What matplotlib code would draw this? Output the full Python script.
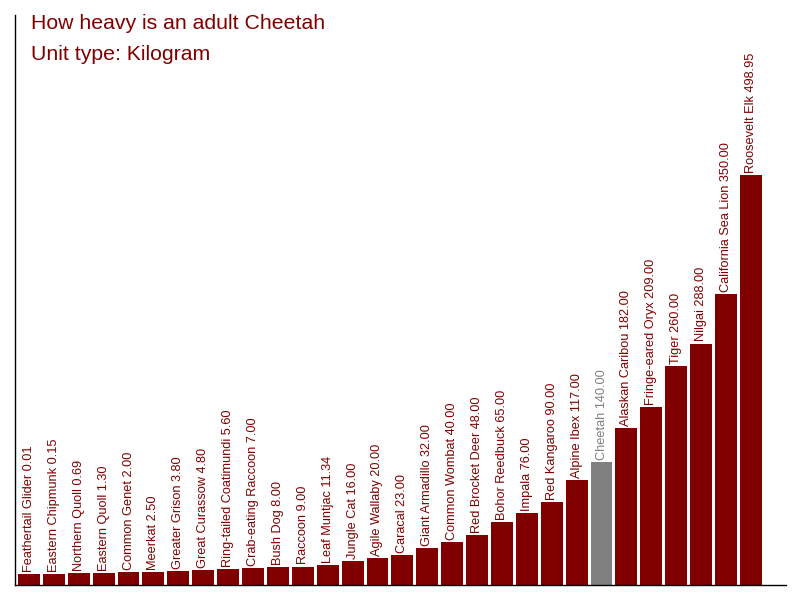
import matplotlib
matplotlib.use("Agg")
import matplotlib.pyplot as plt

animals = ["Feathertail Glider", "Eastern Chipmunk", "Northern Quoll", "Eastern Quoll",
           "Common Genet", "Meerkat", "Greater Grison", "Great Curassow",
           "Ring-tailed Coatimundi", "Crab-eating Raccoon", "Bush Dog", "Raccoon",
           "Leaf Muntjac", "Jungle Cat", "Agile Wallaby", "Caracal", "Giant Armadillo",
           "Common Wombat", "Red Brocket Deer", "Bohor Reedbuck", "Impala",
           "Red Kangaroo", "Alpine Ibex", "Cheetah", "Alaskan Caribou",
           "Fringe-eared Oryx", "Tiger", "Nilgai", "California Sea Lion", "Roosevelt Elk"]
weights = [0.01, 0.15, 0.69, 1.30, 2.00, 2.50, 3.80, 4.80, 5.60, 7.00, 8.00, 9.00,
           11.34, 16.00, 20.00, 23.00, 32.00, 40.00, 48.00, 65.00, 76.00, 90.00,
           117.00, 140.00, 182.00, 209.00, 260.00, 288.00, 350.00, 498.95]
highlight = "Cheetah"

plt.rcParams['font.family'] = ['Liberation Sans', 'DejaVu Sans']
MAROON = "#800000"
GRAY = "#808080"

fig = plt.figure(figsize=(8, 6), dpi=100)
ax = fig.add_axes([15/800, 15/600, 771/800, 570/600])

colors = [GRAY if a == highlight else MAROON for a in animals]
x = list(range(len(animals)))
base = 14.1
ax.bar(x, [w + base for w in weights], width=0.88, bottom=-base, color=colors)

for xi, a, w, c in zip(x, animals, weights, colors):
    ax.annotate(f"{a} {w:.2f}", xy=(xi, w), xytext=(0, 1.5), textcoords="offset points",
                rotation=90, ha="center", va="bottom", fontsize=9.2, color=c)

ax.set_xlim(-0.56, 30.41)
ax.set_ylim(-base, 699)
ax.set_xticks([])
ax.set_yticks([])
for s in ["top", "right"]:
    ax.spines[s].set_visible(False)
for s in ["left", "bottom"]:
    ax.spines[s].set_color("black")
    ax.spines[s].set_linewidth(1.0)

fig.text(31/800, 1 - 29/600, "How heavy is an adult Cheetah", fontsize=15.3, color=MAROON,
         ha="left", va="baseline")
fig.text(31/800, 1 - 60/600, "Unit type: Kilogram", fontsize=15.3, color=MAROON,
         ha="left", va="baseline")

fig.savefig("out.png", dpi=100)
